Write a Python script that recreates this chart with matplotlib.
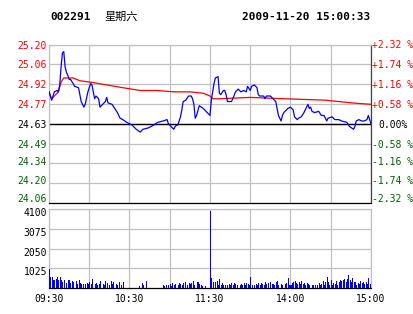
import matplotlib
matplotlib.use("Agg")
from matplotlib import pyplot as plt
from matplotlib import transforms

# minutes after 09:30 (trading minutes, 0..240) and prices
price_minutes = [0, 2, 4, 6, 7, 8, 9, 10, 11, 12, 13, 14, 15, 16, 18, 19, 22, 23, 24, 26,
                 27, 29, 31, 32, 33, 34, 35, 37, 38, 40, 42, 43, 44, 47, 49, 51, 53, 55, 58, 62,
                 65, 68, 70, 74, 78, 81, 85, 88, 89, 91, 93, 94, 95, 96, 98, 99, 100, 102, 104, 106,
                 107, 108, 109, 110, 112, 115, 117, 120, 121, 123, 124, 126, 127, 128, 130, 131, 132, 133, 136, 137,
                 139, 141, 143, 145, 147, 148, 150, 151, 153, 155, 156, 157, 160, 161, 162, 165, 167, 169, 170, 171,
                 173, 174, 175, 177, 178, 180, 182, 183, 185, 186, 188, 190, 191, 193, 194, 195, 196, 198, 201, 203,
                 205, 207, 208, 211, 213, 216, 218, 222, 224, 227, 228, 229, 231, 233, 235, 237, 238, 239, 240]
price_values = [24.86, 24.80, 24.86, 24.87, 24.86, 24.91, 25.04, 25.14, 25.15, 25.04, 25.00, 24.98, 24.95, 24.95, 24.92, 24.90, 24.89, 24.84, 24.79, 24.75,
                24.77, 24.86, 24.92, 24.91, 24.86, 24.81, 24.83, 24.81, 24.75, 24.77, 24.79, 24.82, 24.78, 24.77, 24.74, 24.71, 24.67, 24.66, 24.64, 24.62,
                24.59, 24.57, 24.59, 24.60, 24.62, 24.64, 24.65, 24.66, 24.63, 24.61, 24.59, 24.61, 24.62, 24.62, 24.68, 24.73, 24.79, 24.80, 24.83, 24.83,
                24.81, 24.77, 24.67, 24.69, 24.76, 24.74, 24.72, 24.69, 24.80, 24.92, 24.96, 24.97, 24.85, 24.84, 24.87, 24.87, 24.84, 24.79, 24.79, 24.81,
                24.86, 24.88, 24.86, 24.87, 24.86, 24.90, 24.87, 24.90, 24.91, 24.89, 24.84, 24.83, 24.83, 24.81, 24.83, 24.83, 24.81, 24.79, 24.74, 24.69,
                24.65, 24.69, 24.71, 24.73, 24.74, 24.75, 24.73, 24.68, 24.66, 24.67, 24.68, 24.71, 24.73, 24.77, 24.74, 24.75, 24.72, 24.71, 24.72, 24.69,
                24.69, 24.65, 24.67, 24.68, 24.66, 24.66, 24.65, 24.64, 24.61, 24.59, 24.61, 24.65, 24.66, 24.65, 24.65, 24.66, 24.69, 24.66, 24.63]

avg_minutes = [0, 2, 7, 9, 11, 13, 18, 23, 31, 43, 55, 68, 80, 93, 105, 115, 120, 122, 127, 150, 176, 206, 226, 240]
avg_values = [24.86, 24.81, 24.86, 24.93, 24.96, 24.96, 24.96, 24.94, 24.93, 24.91, 24.89, 24.87, 24.87, 24.86,
              24.86, 24.85, 24.83, 24.81, 24.81, 24.82, 24.81, 24.80, 24.78, 24.77]

# one volume per trading minute, 09:30 .. 15:00
volumes = [1000,
           570, 570, 400, 400, 485, 550, 430, 570, 430, 295, 430, 0, 260, 430, 430, 260, 380, 295, 0, 380,
           225, 430, 260, 225, 225, 0, 225, 260, 225, 295, 225, 485, 0, 225, 260, 170, 225, 345, 0, 225,
           170, 380, 260, 0, 170, 380, 225, 295, 0, 225, 170, 295, 0, 170, 295,
           0, 0, 0, 0, 0, 0, 0, 0, 0, 0, 0,
           100, 0, 260, 140, 0, 380,
           0, 0, 0, 0, 0, 0, 0, 0, 0, 0, 0, 0,
           170, 120, 170, 0, 170, 225, 120, 260, 170, 225, 0, 170, 260, 225, 170, 260, 294, 0, 170, 260,
           225, 260, 346, 170, 0, 294, 294, 225, 170, 120, 0, 120,
           0, 0, 0,
           4000,
           520, 294, 0, 294, 346, 173, 467, 173, 260, 173,
           173, 0, 173, 225, 173, 260, 173, 260, 225, 173,
           0, 173, 225, 173, 260, 173, 260, 225, 173, 570,
           173, 0, 173, 225, 173, 260, 173, 260, 225, 173,
           294, 225, 260, 0, 294, 225, 225, 173, 294, 346,
           173, 0, 225, 173, 0, 225, 260, 520, 173, 173,
           260, 294, 346, 260, 225, 294, 225, 346, 225, 260,
           173, 260, 225, 173, 0, 173, 173, 173, 0, 173,
           260, 173, 225, 346, 173, 294, 570, 294, 173, 430,
           173, 260, 225, 346, 173, 294, 430, 346, 430, 467,
           294, 467, 690, 430, 294, 520, 294, 294, 173, 260,
           225, 346, 260, 294, 225, 294, 225, 520, 225, 550]

prev_close = 24.63
price_labels = ["25.20", "25.06", "24.92", "24.77", "24.63", "24.49", "24.34", "24.20", "24.06"]
pct_labels = ["+2.32 %", "+1.74 %", "+1.16 %", "+0.58 %", "0.00%", "-0.58 %", "-1.16 %", "-1.74 %", "-2.32 %"]
vol_ticks = [1025, 2050, 3075, 4100]
time_ticks = [0, 60, 120, 180, 240]
time_labels = ["09:30", "10:30", "11:30", "14:00", "15:00"]

RED = "#ff0000"
GREEN = "#006400"
GRID = "#c0c0c0"
MONO = "DejaVu Sans Mono"

fig = plt.figure(figsize=(4.14, 3.14), dpi=100)
fig.patch.set_facecolor("white")

W, H = 414, 314
def box(l, t, r, b):
    return [l / W, 1 - b / H, (r - l) / W, (b - t) / H]

def nudge(label, dy_px, dx_px=0):
    # shift a tick label by a few pixels
    label.set_transform(label.get_transform()
                        + transforms.ScaledTranslation(dx_px / 100, -dy_px / 100, fig.dpi_scale_trans))

# price panel
ax = fig.add_axes(box(49, 44.5, 371, 203))
step = 0.5714 / 4
levels = [prev_close + step * (4 - i) for i in range(9)]
ax.set_xlim(0, 240)
ax.set_ylim(levels[-1], levels[0])
ax.set_xticks(range(0, 241, 30))
ax.set_xticklabels([])
ax.set_yticks(levels)
ax.set_yticklabels(price_labels, family=MONO, fontsize=7)
for i, lab in enumerate(ax.get_yticklabels()):
    lab.set_color(RED if i < 4 else ("black" if i == 4 else GREEN))
ax.tick_params(length=0, pad=1.5)
ax.grid(True, color=GRID, linewidth=0.9)
ax.axhline(prev_close, color="black", linewidth=1.0, zorder=2)
for s in ("top", "left"):
    ax.spines[s].set_color(GRID)
ax.spines["right"].set_color("#404040")
ax.spines["bottom"].set_color("black")
for s in ax.spines.values():
    s.set_linewidth(0.9)

ax.plot(avg_minutes, avg_values, color=RED, linewidth=0.9, zorder=3)
ax.plot(price_minutes, price_values, color="#0000ff", linewidth=0.9, zorder=4)

ax2 = ax.twinx()
ax2.set_ylim(ax.get_ylim())
ax2.set_yticks(levels)
ax2.set_yticklabels(pct_labels, family=MONO, fontsize=7)
for i, lab in enumerate(ax2.get_yticklabels()):
    lab.set_color(RED if i < 4 else ("black" if i == 4 else GREEN))
ax2.tick_params(length=0, pad=0.5)
for s in ax2.spines.values():
    s.set_visible(False)

nudge(ax.get_yticklabels()[-1], -5)
nudge(ax2.get_yticklabels()[-1], -5)
nudge(ax.get_yticklabels()[-2], -3)
nudge(ax2.get_yticklabels()[-2], -3)
nudge(ax.get_yticklabels()[-3], -2)
nudge(ax2.get_yticklabels()[-3], -2)
nudge(ax2.get_yticklabels()[4], 0, 7)

# volume panel
vx = fig.add_axes(box(49, 209, 371, 288))
vx.bar(range(len(volumes)), volumes, width=0.75, color="#0000ff", align="edge",
       linewidth=0, antialiased=False, zorder=3)
vx.set_xlim(0, 240)
vx.set_ylim(0, 4100)
vx.set_yticks(vol_ticks)
vx.set_yticklabels([str(v) for v in vol_ticks], family=MONO, fontsize=7)
vx.set_xticks(range(0, 241, 30))
vx.set_xticklabels([time_labels[time_ticks.index(t)] if t in time_ticks else "" for t in range(0, 241, 30)],
                   family=MONO, fontsize=7)
vx.tick_params(length=0, pad=1.5)
vx.tick_params(axis="x", pad=4)
vx.grid(True, color=GRID, linewidth=0.9)
for s in ("top", "left", "right"):
    vx.spines[s].set_color(GRID)
vx.spines["bottom"].set_color("black")
for s in vx.spines.values():
    s.set_linewidth(0.9)
for lab in vx.get_yticklabels():
    nudge(lab, 3)

# header
fig.text(50 / W, 1 - 17 / H, "002291", family=MONO, fontsize=8, fontweight="bold", va="center")
fig.text(104 / W, 1 - 17 / H, "星期六", family=["Noto Sans CJK SC", "DejaVu Sans"], fontsize=8, va="center")
fig.text(370 / W, 1 - 17 / H, "2009-11-20 15:00:33", family=MONO, fontsize=8, fontweight="bold",
         va="center", ha="right")

fig.savefig("out.png", dpi=100, facecolor="white")
